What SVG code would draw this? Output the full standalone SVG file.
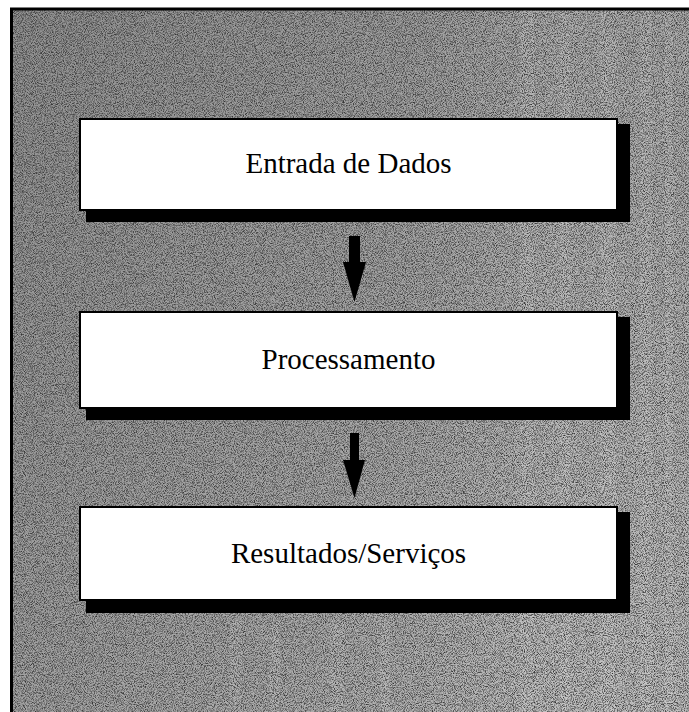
<svg xmlns="http://www.w3.org/2000/svg" width="689" height="712" viewBox="0 0 689 712">
  <defs>
    <linearGradient id="bgGrad" x1="0" y1="0" x2="1" y2="1">
      <stop offset="0" stop-color="#747474"/>
      <stop offset="0.5" stop-color="#8a8a8a"/>
      <stop offset="1" stop-color="#a6a6a6"/>
    </linearGradient>
    <linearGradient id="streaks" x1="0" y1="0" x2="1" y2="0">
      <stop offset="0" stop-color="#ffffff" stop-opacity="0"/>
      <stop offset="0.6" stop-color="#ffffff" stop-opacity="0.04"/>
      <stop offset="0.8" stop-color="#ffffff" stop-opacity="0.16"/>
      <stop offset="1" stop-color="#ffffff" stop-opacity="0.1"/>
    </linearGradient>
    <filter id="noise" x="0" y="0" width="100%" height="100%">
      <feTurbulence type="fractalNoise" baseFrequency="1.1" numOctaves="2" seed="3" result="n"/>
      <feColorMatrix in="n" type="matrix" values="0 0 0 0 0  0 0 0 0 0  0 0 0 0 0  0 0 0 2.4 -0.95" result="dark"/>
      <feComposite in="dark" in2="SourceGraphic" operator="in"/>
    </filter>
    <filter id="noise2" x="0" y="0" width="100%" height="100%">
      <feTurbulence type="fractalNoise" baseFrequency="1.0" numOctaves="1" seed="11" result="n"/>
      <feColorMatrix in="n" type="matrix" values="0 0 0 0 1  0 0 0 0 1  0 0 0 0 1  0 0 0 2.4 -1.0" result="light"/>
      <feComposite in="light" in2="SourceGraphic" operator="in"/>
    </filter>
    <style>
      .box { fill: #ffffff; stroke: #000000; stroke-width: 2; }
      .shadow { fill: #000000; }
      .label { font-family: "Liberation Serif", "DejaVu Serif", serif; font-size: 29px; fill: #000000; text-anchor: middle; }
      .arrow { fill: #000000; }
      .streak { fill: #ffffff; opacity: 0.1; }
    </style>
  </defs>

  <rect x="0" y="0" width="689" height="712" fill="#ffffff"/>
  <g id="background">
    <rect x="10" y="8" width="679" height="704" fill="url(#bgGrad)"/>
    <rect x="10" y="8" width="679" height="704" fill="url(#streaks)"/>
    <rect class="streak" x="520" y="8" width="14" height="704"/>
    <rect class="streak" x="560" y="8" width="10" height="704"/>
    <rect class="streak" x="600" y="8" width="16" height="704"/>
    <rect class="streak" x="640" y="8" width="12" height="704"/>
    <rect class="streak" x="665" y="8" width="8" height="704"/>
    <rect class="streak" x="230" y="620" width="12" height="92"/>
    <rect class="streak" x="270" y="620" width="10" height="92"/>
    <rect class="streak" x="330" y="620" width="14" height="92"/>
    <rect class="streak" x="380" y="620" width="10" height="92"/>
    <rect x="10" y="8" width="679" height="704" fill="#000" filter="url(#noise)"/>
    <rect x="10" y="8" width="679" height="704" fill="#000" filter="url(#noise2)"/>
    <rect x="11.5" y="9" width="690" height="710" fill="none" stroke="#000" stroke-width="3"/>
  </g>

  <g id="connectors">
    <polygon class="arrow" points="349,236 360,236 360,262 366,262 354.5,302 343,262 349,262"/>
    <polygon class="arrow" points="350,433 359,433 359,460 365,460 354.5,498 343,460 350,460"/>
  </g>

  <g id="node-entrada">
    <rect class="shadow" x="86" y="124" width="544" height="98"/>
    <rect class="box" x="80" y="119" width="537" height="91"/>
    <text class="label" x="348.5" y="173">Entrada de Dados</text>
  </g>

  <g id="node-processamento">
    <rect class="shadow" x="86" y="317" width="544" height="103"/>
    <rect class="box" x="80" y="312" width="537" height="96"/>
    <text class="label" x="348.5" y="369">Processamento</text>
  </g>

  <g id="node-resultados">
    <rect class="shadow" x="86" y="512" width="544" height="101"/>
    <rect class="box" x="80" y="507" width="537" height="93"/>
    <text class="label" x="348.5" y="563">Resultados/Serviços</text>
  </g>
</svg>
